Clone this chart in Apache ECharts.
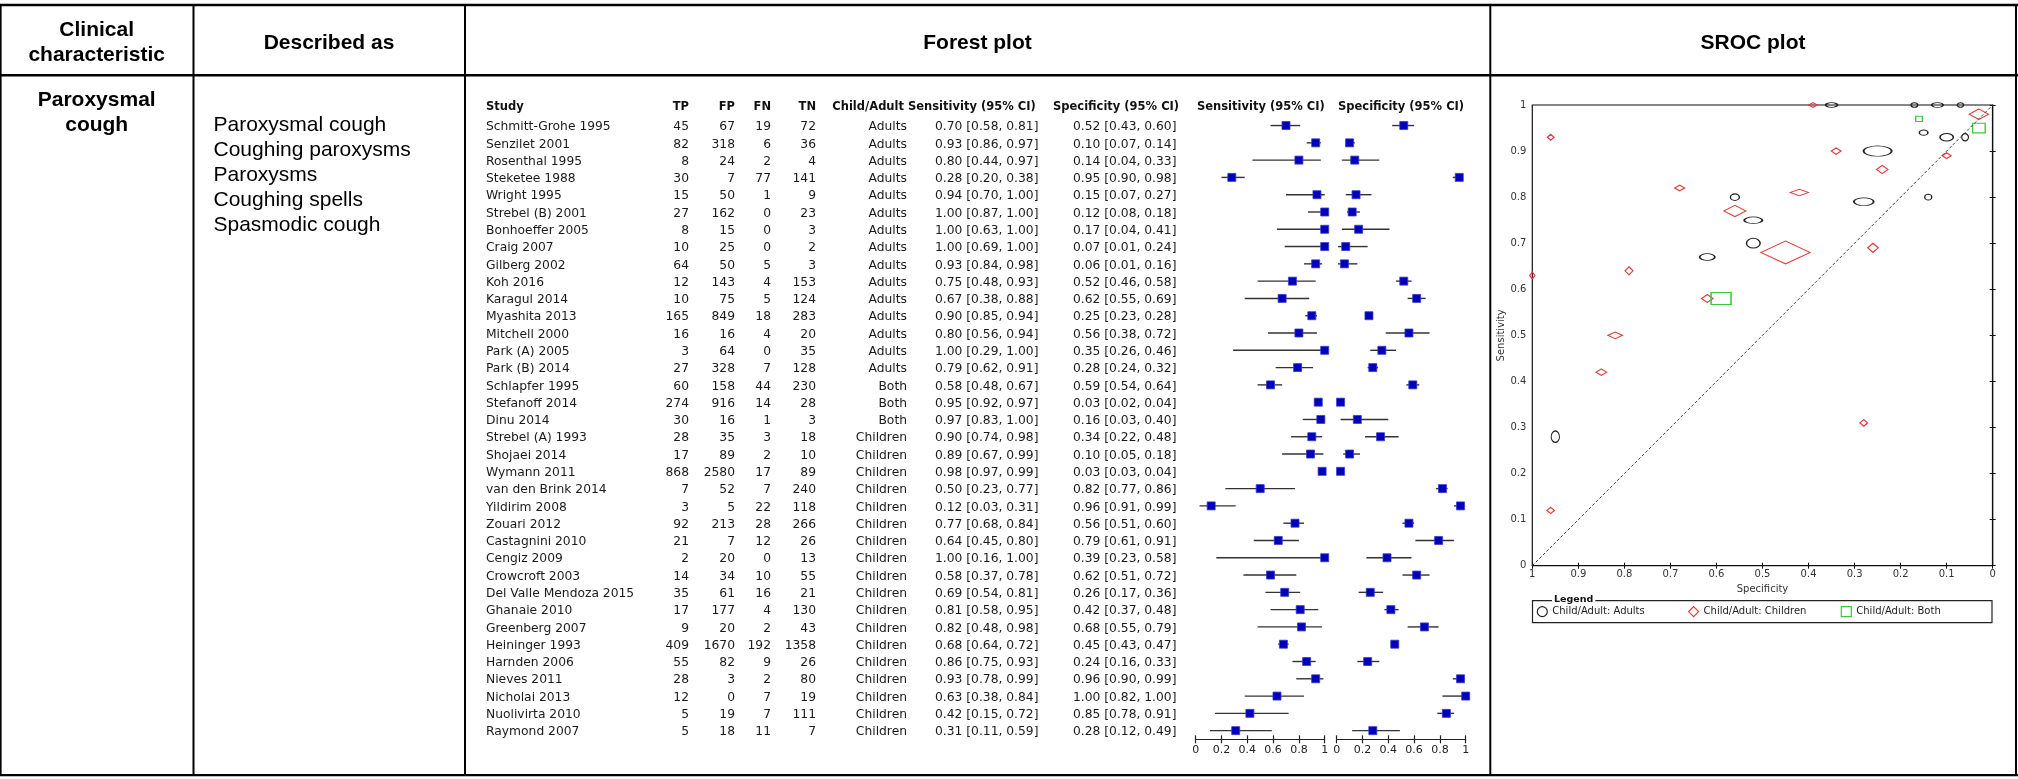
<!DOCTYPE html>
<html>
<head>
<meta charset="utf-8">
<script src="https://cdn.jsdelivr.net/npm/echarts/dist/echarts.min.js"></script>
<style>
html,body{margin:0;padding:0;background:#fff;}
#chart{width:2018px;height:779px;}
</style>
</head>
<body>
<div id="chart"></div>
<script>
// ---------------- data ----------------
const studies = ["Schmitt-Grohe 1995","Senzilet 2001","Rosenthal 1995","Steketee 1988","Wright 1995","Strebel (B) 2001","Bonhoeffer 2005","Craig 2007","Gilberg 2002","Koh 2016","Karagul 2014","Myashita 2013","Mitchell 2000","Park (A) 2005","Park (B) 2014","Schlapfer 1995","Stefanoff 2014","Dinu 2014","Strebel (A) 1993","Shojaei 2014","Wymann 2011","van den Brink 2014","Yildirim 2008","Zouari 2012","Castagnini 2010","Cengiz 2009","Crowcroft 2003","Del Valle Mendoza 2015","Ghanaie 2010","Greenberg 2007","Heininger 1993","Harnden 2006","Nieves 2011","Nicholai 2013","Nuolivirta 2010","Raymond 2007"];
const TP = [45,82,8,30,15,27,8,10,64,12,10,165,16,3,27,60,274,30,28,17,868,7,3,92,21,2,14,35,17,9,409,55,28,12,5,5];
const FP = [67,318,24,7,50,162,15,25,50,143,75,849,16,64,328,158,916,16,35,89,2580,52,5,213,7,20,34,61,177,20,1670,82,3,0,19,18];
const FN = [19,6,2,77,1,0,0,0,5,4,5,18,4,0,7,44,14,1,3,2,17,7,22,28,12,0,10,16,4,2,192,9,2,7,7,11];
const TN = [72,36,4,141,9,23,3,2,3,153,124,283,20,35,128,230,28,3,18,10,89,240,118,266,26,13,55,21,130,43,1358,26,80,19,111,7];
const groups = ["Adults","Adults","Adults","Adults","Adults","Adults","Adults","Adults","Adults","Adults","Adults","Adults","Adults","Adults","Adults","Both","Both","Both","Children","Children","Children","Children","Children","Children","Children","Children","Children","Children","Children","Children","Children","Children","Children","Children","Children","Children"];
const sens   = [0.70,0.93,0.80,0.28,0.94,1.00,1.00,1.00,0.93,0.75,0.67,0.90,0.80,1.00,0.79,0.58,0.95,0.97,0.90,0.89,0.98,0.50,0.12,0.77,0.64,1.00,0.58,0.69,0.81,0.82,0.68,0.86,0.93,0.63,0.42,0.31];
const sensLo = [0.58,0.86,0.44,0.20,0.70,0.87,0.63,0.69,0.84,0.48,0.38,0.85,0.56,0.29,0.62,0.48,0.92,0.83,0.74,0.67,0.97,0.23,0.03,0.68,0.45,0.16,0.37,0.54,0.58,0.48,0.64,0.75,0.78,0.38,0.15,0.11];
const sensHi = [0.81,0.97,0.97,0.38,1.00,1.00,1.00,1.00,0.98,0.93,0.88,0.94,0.94,1.00,0.91,0.67,0.97,1.00,0.98,0.99,0.99,0.77,0.31,0.84,0.80,1.00,0.78,0.81,0.95,0.98,0.72,0.93,0.99,0.84,0.72,0.59];
const spec   = [0.52,0.10,0.14,0.95,0.15,0.12,0.17,0.07,0.06,0.52,0.62,0.25,0.56,0.35,0.28,0.59,0.03,0.16,0.34,0.10,0.03,0.82,0.96,0.56,0.79,0.39,0.62,0.26,0.42,0.68,0.45,0.24,0.96,1.00,0.85,0.28];
const specLo = [0.43,0.07,0.04,0.90,0.07,0.08,0.04,0.01,0.01,0.46,0.55,0.23,0.38,0.26,0.24,0.54,0.02,0.03,0.22,0.05,0.03,0.77,0.91,0.51,0.61,0.23,0.51,0.17,0.37,0.55,0.43,0.16,0.90,0.82,0.78,0.12];
const specHi = [0.60,0.14,0.33,0.98,0.27,0.18,0.41,0.24,0.16,0.58,0.69,0.28,0.72,0.46,0.32,0.64,0.04,0.40,0.48,0.18,0.04,0.86,0.99,0.60,0.91,0.58,0.72,0.36,0.48,0.79,0.47,0.33,0.99,1.00,0.91,0.49];
const describedAs = ["Paroxysmal cough","Coughing paroxysms","Paroxysms","Coughing spells","Spasmodic cough"];
const tableHeaders = ["Study","TP","FP","FN","TN","Child/Adult","Sensitivity (95% CI)","Specificity (95% CI)","Sensitivity (95% CI)","Specificity (95% CI)"];

// ---------------- layout / style ----------------
const TXT = '"DejaVu Sans", sans-serif';
const HDR = '"Liberation Sans", Arial, sans-serif';
const ROW_TOP = 116.9, ROW_H = 622.4;
const f2 = v => v.toFixed(2);

// symbol size: scaled by precision (inverse SE on logit scale), as in RevMan SROC
function invSE(a, b){ if (a === 0 || b === 0){ a += 0.5; b += 0.5; } return Math.sqrt(a*b/(a+b)); }
function sroc(groupName){
  const out = [];
  studies.forEach((s,i)=>{
    if (groups[i] === groupName) out.push({name:s, value:[spec[i], sens[i], 4 + 1.65*invSE(FP[i],TN[i]), 3.5 + 1.7*invSE(TP[i],FN[i])]});
  });
  return out;
}

// table columns: [offset from table left, align, text fn]
const cols = [
  [0,   'left',  i => studies[i]],
  [203, 'right', i => String(TP[i])],
  [249, 'right', i => String(FP[i])],
  [285, 'right', i => String(FN[i])],
  [330, 'right', i => String(TN[i])],
  [421, 'right', i => groups[i]],
  [449, 'left',  i => f2(sens[i]) + ' [' + f2(sensLo[i]) + ', ' + f2(sensHi[i]) + ']'],
  [587, 'left',  i => f2(spec[i]) + ' [' + f2(specLo[i]) + ', ' + f2(specHi[i]) + ']']
];

function forestItem(params, api){
  const v = api.value(0), idx = api.value(1), lo = api.value(2), hi = api.value(3);
  const p = api.coord([v, idx]), a = api.coord([lo, idx]), b = api.coord([hi, idx]);
  const s = 8;
  return {type:'group', children:[
    {type:'line', shape:{x1:a[0], y1:a[1], x2:b[0], y2:b[1]}, style:{stroke:'#333', lineWidth:1.4}},
    {type:'rect', shape:{x:p[0]-s/2, y:p[1]-s/2, width:s, height:s}, style:{fill:'#0000bb', stroke:'#3a3acc', lineWidth:0.8}}
  ]};
}

const chart = echarts.init(document.getElementById('chart'), null, {renderer:'canvas'});

const lines = [];
function hline(y, x1, x2, w){ lines.push({type:'line', shape:{x1:x1, y1:y, x2:x2, y2:y}, style:{stroke:'#000', lineWidth:w}, silent:true}); }
function vline(x, y1, y2, w){ lines.push({type:'line', shape:{x1:x, y1:y1, x2:x, y2:y2}, style:{stroke:'#000', lineWidth:w}, silent:true}); }
hline(5, 0, 2018, 2.6);
hline(75.3, 0, 2018, 2.4);
hline(775.2, 0, 2018, 2.2);
vline(0.8, 4, 776, 1.6);
vline(193.5, 4, 776, 2);
vline(465, 4, 776, 2);
vline(1490.3, 4, 776, 2);
vline(2016, 4, 776, 2);

function txt(t, x, y, opt){
  return Object.assign({type:'text', silent:true, style:Object.assign({text:t, x:x, y:y, fill:'#000', verticalAlign:'middle'}, opt)});
}
const hdrFont = {fontFamily:HDR, fontWeight:'bold', fontSize:21, align:'center'};
const texts = [
  txt('Clinical', 96.7, 30, hdrFont),
  txt('characteristic', 96.7, 55, hdrFont),
  txt('Described as', 329, 43, hdrFont),
  txt('Forest plot', 977.5, 43, hdrFont),
  txt('SROC plot', 1753, 43, hdrFont),
  txt('Paroxysmal', 96.7, 100.5, hdrFont),
  txt('cough', 96.7, 125.5, hdrFont)
];
describedAs.forEach((d,i)=>texts.push(txt(d, 213.5, 125 + i*25.1, {fontFamily:HDR, fontSize:21, align:'left'})));
const th = {fontFamily:TXT, fontWeight:'bold', fontSize:11.5, fill:'#111'};
const thPos = [[486,'left'],[689,'right'],[735,'right'],[771,'right'],[816,'right'],[904,'right'],[908,'left'],[1053,'left'],[1197,'left'],[1338,'left']];
tableHeaders.forEach((h,i)=>texts.push(txt(h, thPos[i][0], 107.5, Object.assign({align:thPos[i][1]}, th))));
// legend frame + title
texts.push({type:'rect', silent:true, shape:{x:1532.5, y:600.7, width:459.5, height:22}, style:{fill:'none', stroke:'#222', lineWidth:1.2}});
texts.push(txt('Legend', 1552, 599.5, {fontFamily:TXT, fontWeight:'bold', fontSize:9.5, align:'left', fill:'#111', backgroundColor:'#fff', padding:[0,2,0,2]}));

const forestX = (gi) => ([
  {gridIndex:gi, type:'value', min:0, max:1, interval:0.2, position:'bottom',
   axisLine:{show:true, lineStyle:{color:'#222', width:1.2}},
   axisTick:{show:true, length:4, lineStyle:{color:'#222', width:1.2}},
   axisLabel:{fontFamily:TXT, fontSize:11, color:'#222', margin:5},
   splitLine:{show:false}},
  {gridIndex:gi, type:'value', min:0, max:1, interval:0.2, position:'bottom',
   axisLine:{show:false}, axisLabel:{show:false}, splitLine:{show:false},
   axisTick:{show:true, inside:true, length:4, lineStyle:{color:'#222', width:1.2}}}
]);

const srocAxisCommon = {type:'value', min:0, max:1, interval:0.1, splitLine:{show:false}};

const legendBase = (name, left, icon, stroke) => ({
  left:left, top:606, orient:'horizontal', itemWidth:10, itemHeight:10, padding:0,
  icon:icon, data:[{name:name, icon:icon, itemStyle:{color:'rgba(0,0,0,0)', borderColor:stroke, borderWidth:1.2}}],
  textStyle:{fontFamily:TXT, fontSize:10, color:'#222'}, selectedMode:false
});

const option = {
  animation:false,
  backgroundColor:'#fff',
  graphic: lines.concat(texts),
  grid:[
    {left:486, top:ROW_TOP, width:700, height:ROW_H},
    {left:1195.7, top:ROW_TOP, width:129, height:ROW_H},
    {left:1336.7, top:ROW_TOP, width:129, height:ROW_H},
    {left:1532.3, top:105, width:460.4, height:460.7, show:true, borderColor:'#111', borderWidth:1.2, backgroundColor:'transparent'}
  ],
  xAxis:[
    {gridIndex:0, type:'value', min:0, max:700, show:false},
    ...forestX(1),
    ...forestX(2),
    Object.assign({gridIndex:3, inverse:true, position:'bottom',
      axisLine:{show:true, lineStyle:{color:'#111', width:1.2}},
      axisTick:{show:true, length:3, lineStyle:{color:'#111'}},
      axisLabel:{fontFamily:TXT, fontSize:10, color:'#333', margin:4},
      name:'Specificity', nameLocation:'middle', nameGap:15,
      nameTextStyle:{fontFamily:TXT, fontSize:10, color:'#333'}}, srocAxisCommon),
    Object.assign({gridIndex:3, inverse:true, position:'bottom',
      axisLine:{show:false}, axisLabel:{show:false},
      axisTick:{show:true, inside:true, length:3, lineStyle:{color:'#111'}}}, srocAxisCommon)
  ],
  yAxis:[
    {gridIndex:0, type:'category', data:studies, inverse:true, show:false},
    {gridIndex:1, type:'category', data:studies, inverse:true, show:false},
    {gridIndex:2, type:'category', data:studies, inverse:true, show:false},
    Object.assign({gridIndex:3, position:'left',
      axisLine:{show:true, lineStyle:{color:'#111', width:1.2}},
      axisTick:{show:true, length:3, lineStyle:{color:'#111'}},
      axisLabel:{fontFamily:TXT, fontSize:10, color:'#333', margin:6},
      name:'Sensitivity', nameLocation:'middle', nameGap:20, nameRotate:90,
      nameTextStyle:{fontFamily:TXT, fontSize:10, color:'#333'}}, srocAxisCommon),
    Object.assign({gridIndex:3, position:'left',
      axisLine:{show:false}, axisLabel:{show:false},
      axisTick:{show:true, inside:true, length:3, lineStyle:{color:'#111'}}}, srocAxisCommon)
  ],
  legend:[
    legendBase('Child/Adult: Adults', 1536.7, 'circle', '#222'),
    legendBase('Child/Adult: Children', 1688, 'diamond', '#e03c3c'),
    legendBase('Child/Adult: Both', 1840.7, 'rect', '#3cc83c')
  ],
  series:[
    {type:'custom', xAxisIndex:0, yAxisIndex:0, silent:true,
     data: studies.map((s,i)=>[0,i]),
     renderItem:function(params, api){
       const i = params.dataIndex;
       const base = api.coord([0, i]);
       return {type:'group', children: cols.map(c=>({
         type:'text',
         style:{text:c[2](i), x:base[0]+c[0], y:base[1]+1.5, fill:'#1a1a1a', fontFamily:TXT, fontSize:12.3, align:c[1], verticalAlign:'middle'}
       }))};
     }},
    {type:'custom', xAxisIndex:1, yAxisIndex:1, silent:true,
     data: sens.map((v,i)=>[v,i,sensLo[i],sensHi[i]]), renderItem:forestItem},
    {type:'custom', xAxisIndex:3, yAxisIndex:2, silent:true,
     data: spec.map((v,i)=>[v,i,specLo[i],specHi[i]]), renderItem:forestItem},
    {type:'line', xAxisIndex:5, yAxisIndex:3, silent:true, symbol:'none',
     data:[[1,0],[0,1]], lineStyle:{color:'#444', width:1, type:[3,2]}},
    {name:'Child/Adult: Adults', type:'scatter', xAxisIndex:5, yAxisIndex:3, clip:false, symbol:'circle',
     symbolSize:v=>[v[2],v[3]], data:sroc('Adults'),
     itemStyle:{color:'rgba(0,0,0,0)', borderColor:'#222', borderWidth:1.2, opacity:1}},
    {name:'Child/Adult: Children', type:'scatter', xAxisIndex:5, yAxisIndex:3, clip:false, symbol:'diamond',
     symbolSize:v=>[v[2],v[3]], data:sroc('Children'),
     itemStyle:{color:'rgba(0,0,0,0)', borderColor:'#e03c3c', borderWidth:1.2, opacity:1}},
    {name:'Child/Adult: Both', type:'scatter', xAxisIndex:5, yAxisIndex:3, clip:false, symbol:'rect',
     symbolSize:v=>[v[2],v[3]], data:sroc('Both'),
     itemStyle:{color:'rgba(0,0,0,0)', borderColor:'#3cc83c', borderWidth:1.2, opacity:1}}
  ]
};
chart.setOption(option);
</script>
</body>
</html>
